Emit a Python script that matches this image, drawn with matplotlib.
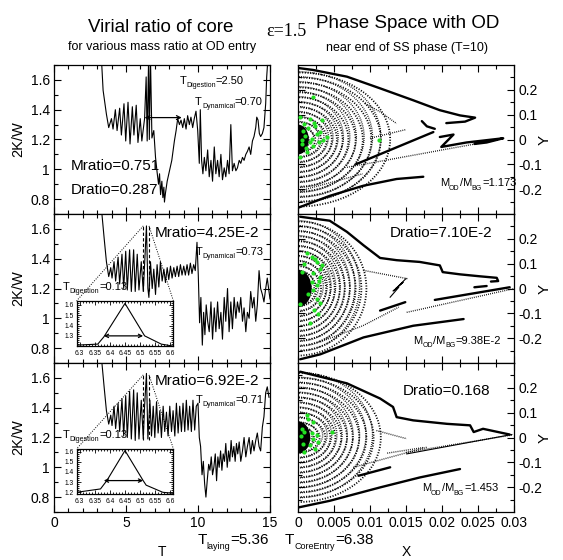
import matplotlib
matplotlib.use('Agg')
import matplotlib.pyplot as plt
from matplotlib import font_manager
from matplotlib.patches import Arc, Ellipse
from matplotlib.ticker import MultipleLocator, FixedLocator, FuncFormatter
from matplotlib.transforms import IdentityTransform

names = {f.name for f in font_manager.fontManager.ttflist}
SANS = 'Liberation Sans Narrow' if 'Liberation Sans Narrow' in names else 'Liberation Sans'
SERIF = 'Liberation Serif'
plt.rcParams['font.family'] = [SANS, 'DejaVu Sans']

# ---------------- data: virial ratio curves (T, 2K/W) ----------------
P1 = [(3.29,1.75),(3.41,1.53),(3.64,1.37),(3.80,1.28),(3.99,1.34),(4.10,1.27),(4.26,1.40),(4.38,1.26),(4.56,1.41),(4.68,1.23),(4.86,1.44),(4.98,1.19),(5.14,1.45),(5.28,1.17),(5.44,1.42),(5.55,1.23),(5.71,1.43),(5.83,1.18),(5.99,1.34),(6.10,1.19),(6.29,1.34),(6.40,1.62),(6.47,1.19),(6.57,1.75),(6.62,1.20),(6.70,1.75),(6.80,1.21),(6.93,1.26),(7.05,1.08),(7.16,0.98),(7.26,0.90),(7.33,0.97),(7.40,0.83),(7.49,0.92),(7.56,0.81),(7.63,0.88),(7.67,0.78),(7.74,0.84),(7.86,0.92),(8.02,0.99),(8.18,1.06),(8.36,1.19),(8.48,1.26),(8.59,1.34),(8.71,1.30),(8.82,1.33),(8.94,1.28),(9.05,1.34),(9.17,1.27),(9.28,1.36),(9.40,1.30),(9.51,1.35),(9.63,1.28),(9.74,1.34),(9.86,1.39),(9.98,1.26),(10.09,1.04),(10.16,1.40),(10.25,1.06),(10.34,0.97),(10.44,1.08),(10.55,0.99),(10.67,1.13),(10.78,0.95),(10.90,1.06),(11.01,0.92),(11.13,1.15),(11.24,0.97),(11.36,1.06),(11.47,0.95),(11.59,1.10),(11.70,0.93),(11.82,1.01),(11.93,0.95),(12.05,1.06),(12.16,0.97),(12.28,1.30),(12.39,0.99),(12.51,1.04),(12.63,0.99),(12.74,1.01),(12.86,1.06),(12.97,1.04),(13.09,1.08),(13.20,1.06),(13.32,1.10),(13.43,1.12),(13.55,1.15),(13.66,1.10),(13.78,1.19),(13.89,1.22),(14.01,1.28),(14.08,1.35),(14.17,1.33),(14.26,1.24),(14.35,1.22),(14.47,1.24),(14.58,1.28),(14.70,1.44),(14.77,1.62),(14.86,1.75)]
P2 = [(3.29,1.74),(3.48,1.54),(3.64,1.38),(3.80,1.28),(3.94,1.34),(4.03,1.27),(4.17,1.38),(4.28,1.25),(4.45,1.41),(4.56,1.23),(4.72,1.43),(4.84,1.20),(4.98,1.45),(5.09,1.19),(5.25,1.46),(5.37,1.18),(5.53,1.46),(5.64,1.18),(5.78,1.43),(5.90,1.19),(6.06,1.38),(6.20,1.18),(6.29,1.36),(6.42,1.62),(6.52,1.20),(6.59,1.14),(6.70,1.38),(6.82,1.20),(6.93,1.33),(7.05,1.16),(7.16,1.36),(7.28,1.21),(7.39,1.38),(7.51,1.25),(7.63,1.33),(7.74,1.24),(7.86,1.34),(7.97,1.26),(8.09,1.35),(8.20,1.27),(8.32,1.34),(8.43,1.28),(8.55,1.35),(8.66,1.28),(8.78,1.36),(8.89,1.29),(9.01,1.35),(9.12,1.29),(9.24,1.36),(9.35,1.29),(9.47,1.37),(9.58,1.30),(9.70,1.36),(9.81,1.32),(9.93,1.51),(10.02,1.29),(10.11,0.97),(10.20,1.14),(10.30,0.82),(10.39,1.04),(10.48,0.89),(10.57,1.09),(10.67,0.98),(10.78,0.91),(10.90,1.11),(11.01,0.86),(11.13,1.07),(11.24,0.91),(11.36,1.11),(11.47,0.93),(11.59,1.04),(11.70,0.86),(11.82,1.14),(11.93,0.98),(12.05,1.20),(12.16,0.91),(12.28,1.11),(12.39,0.93),(12.51,1.14),(12.63,1.00),(12.74,1.11),(12.86,1.04),(12.97,1.14),(13.09,0.98),(13.20,1.07),(13.32,0.91),(13.43,1.04),(13.55,1.00),(13.66,1.18),(13.78,1.07),(13.89,1.14),(14.01,0.98),(14.12,1.09),(14.24,1.32),(14.35,1.20),(14.47,1.16),(14.58,1.11),(14.70,1.20),(14.81,1.27),(14.93,1.18),(15.0,1.13)]
P3 = [(3.29,1.74),(3.48,1.54),(3.64,1.38),(3.80,1.29),(3.94,1.35),(4.03,1.28),(4.17,1.41),(4.28,1.26),(4.45,1.43),(4.56,1.24),(4.72,1.46),(4.84,1.21),(4.98,1.48),(5.09,1.20),(5.25,1.51),(5.37,1.19),(5.53,1.52),(5.64,1.18),(5.78,1.50),(5.90,1.19),(6.06,1.45),(6.20,1.19),(6.29,1.41),(6.42,1.63),(6.52,1.19),(6.66,1.45),(6.77,1.21),(6.89,1.41),(7.00,1.20),(7.12,1.44),(7.23,1.23),(7.35,1.38),(7.46,1.20),(7.58,1.41),(7.69,1.24),(7.81,1.37),(7.92,1.21),(8.04,1.41),(8.16,1.24),(8.27,1.38),(8.39,1.21),(8.50,1.43),(8.62,1.23),(8.73,1.41),(8.85,1.24),(8.96,1.43),(9.08,1.24),(9.19,1.45),(9.31,1.25),(9.42,1.41),(9.54,1.24),(9.65,1.45),(9.77,1.25),(9.88,1.41),(10.00,1.43),(10.09,1.20),(10.18,1.14),(10.28,0.95),(10.37,1.04),(10.46,0.89),(10.55,0.80),(10.64,0.91),(10.74,1.02),(10.83,0.98),(10.92,1.07),(11.01,0.95),(11.10,1.00),(11.20,1.09),(11.29,0.91),(11.38,1.07),(11.47,1.00),(11.57,1.11),(11.66,0.98),(11.75,1.09),(11.84,1.04),(11.93,1.16),(12.03,1.00),(12.12,1.11),(12.21,1.04),(12.30,1.18),(12.39,1.07),(12.49,1.14),(12.58,1.04),(12.67,1.16),(12.76,1.09),(12.86,1.17),(12.97,1.04),(13.09,1.11),(13.20,1.20),(13.32,1.07),(13.43,1.14),(13.55,1.20),(13.66,1.09),(13.78,1.18),(13.89,1.11),(14.01,1.18),(14.12,1.23),(14.24,1.14),(14.35,1.11),(14.47,1.27),(14.58,1.34),(14.70,1.50),(14.81,1.54),(14.93,1.47)]

# insets (zoom of the peak near OD core entry)
I2 = [(6.29,1.21),(6.36,1.22),(6.38,1.29),(6.45,1.615),(6.515,1.30),(6.57,1.22),(6.61,1.20)]
I3 = [(6.29,1.20),(6.369,1.233),(6.39,1.315),(6.45,1.61),(6.51,1.315),(6.52,1.27),(6.575,1.20),(6.61,1.19)]
I2_arrow = (6.38, 6.51, 1.30)
I3_arrow = (6.38, 6.51, 1.315)
P1_arrow = (6.29, 8.87, 1.347)

mratio_labels = ['Mratio=0.751', 'Mratio=4.25E-2', 'Mratio=6.92E-2']
dratio_labels = ['Dratio=0.287', 'Dratio=7.10E-2', 'Dratio=0.168']
tdyn_labels = ['0.70', '0.73', '0.71']
tdig_labels = ['2.50', '0.13', '0.13']
mod_labels = ['1.173', '9.38E-2', '1.453']
t_laying = '5.36'
t_core_entry = '6.38'

# ---------------- data: phase space (X, Y) ----------------
R1_thick = [
    [(0.0000,0.288),(0.0021,0.280),(0.0068,0.253),(0.0114,0.206),(0.0160,0.158),(0.0197,0.118),(0.0225,0.097),(0.0246,0.088),(0.0232,0.072),(0.0206,0.066)],
    [(0.0172,0.074),(0.0179,0.053),(0.0190,0.043)],
    [(0.0197,0.010),(0.0216,0.020),(0.0199,-0.030),(0.0234,-0.012),(0.0285,0.005),(0.0262,-0.012),(0.0245,-0.018)],
    [(0.0081,-0.099),(0.0188,0.030)],
    [(0.0000,-0.275),(0.0044,-0.227),(0.0091,-0.186),(0.0137,-0.159),(0.0174,-0.150)],
]
R1_dotted = [
    [(0.0068,-0.112),(0.0278,-0.001)],
    [(0.0093,0.145),(0.0115,0.110),(0.0137,0.064)],
    [(0.0003,-0.207),(0.0090,-0.138)],
    [(0.0100,0.005),(0.0150,0.040)],
]
R1_arc_a = [0.27,0.25,0.23,0.21,0.19,0.17,0.15,0.13,0.11,0.09,0.07,0.05,0.03]
R1_arc_b = [0.0128,0.0115,0.0102,0.0090,0.0080,0.0070,0.0062,0.0054,0.0047,0.0040,0.0032,0.0024,0.0015]
R1_core = (0.0015, 0.06)
R1_green = [(0.0021,0.171),(0.0003,0.090),(0.0017,0.084),(0.0033,0.080),(0.0024,0.053),(0.0007,0.036),(0.0010,0.016),(0.0026,0.023),(0.0035,-0.004),(0.0005,-0.020),(0.0021,-0.028),(0.0012,-0.051),(0.0003,-0.072),(0.0112,-0.001),(0.0014,0.045),(0.0019,0.003),(0.0029,-0.012),(0.0008,0.062),(0.0030,0.030),(0.0016,-0.010),(0.0006,0.000),(0.0022,0.068),(0.0040,0.010),(0.0011,-0.035)]

R2_thick = [
    [(0.0003,0.289),(0.0044,0.273),(0.0068,0.228),(0.0091,0.174),(0.0114,0.123),(0.0137,0.114),(0.0169,0.107),(0.0197,0.093),(0.0201,0.066),(0.0225,0.057),(0.0253,0.049),(0.0276,0.043),(0.0278,0.030),(0.0268,0.028)],
    [(0.0245,0.005),(0.0262,0.010)],
    [(0.0190,-0.046),(0.0294,0.005)],
    [(0.0114,-0.089),(0.0149,-0.055)],
    [(0.0003,-0.285),(0.0031,-0.265),(0.0091,-0.197),(0.0160,-0.150),(0.0230,-0.123)],
]
R2_thin = [(0.0128,-0.035),(0.0140,0.005),(0.0132,-0.010),(0.0146,0.025),(0.0136,0.000),(0.0150,0.040)]
R2_dotted = [
    [(0.0151,-0.096),(0.0299,-0.001)],
    [(0.0091,0.073),(0.0153,0.039)],
    [(0.0031,-0.215),(0.0090,-0.150),(0.0140,-0.075)],
]
R2_arc_a = [0.27,0.25,0.23,0.21,0.19,0.17,0.15,0.13,0.11,0.09,0.07,0.05,0.03]
R2_arc_b = [0.0095,0.0088,0.0080,0.0072,0.0065,0.0058,0.0051,0.0045,0.0039,0.0032,0.0025,0.0018,0.0011]
R2_core = (0.0019, 0.075)
R2_green = [(0.0012,0.141),(0.0019,0.127),(0.0026,0.107),(0.0031,0.080),(0.0005,0.065),(0.0021,0.061),(0.0031,0.046),(0.0019,0.025),(0.0026,0.014),(0.0021,-0.008),(0.0014,-0.022),(0.0026,-0.042),(0.0003,-0.062),(0.0028,-0.103),(0.0017,-0.137),(0.0033,0.095),(0.0029,0.030),(0.0024,0.120),(0.0008,0.100),(0.0030,-0.060),(0.0022,-0.085)]

R3_thick = [
    [(0.0003,0.265),(0.0068,0.218),(0.0114,0.157),(0.0132,0.123),(0.0137,0.082),(0.0160,0.069),(0.0207,0.055),(0.0239,0.049),(0.0244,0.022),(0.0257,0.035),(0.0294,0.012)],
    [(0.0000,-0.282),(0.0044,-0.255),(0.0114,-0.201),(0.0169,-0.161),(0.0225,-0.127)],
    [(0.0084,-0.154),(0.0128,-0.120)],
]
R3_thin = [(0.0297,0.012),(0.0151,-0.066)]
R3_dotted = [
    [(0.0077,-0.120),(0.0179,-0.039)],
    [(0.0109,0.028),(0.0151,-0.005)],
    [(0.0124,-0.063),(0.0175,-0.040)],
    [(0.0150,-0.060),(0.0297,0.010)],
]
R3_arc_a = [0.26,0.24,0.22,0.20,0.18,0.16,0.14,0.12,0.10,0.08,0.06,0.045,0.03]
R3_arc_b = [0.0115,0.0105,0.0095,0.0085,0.0076,0.0068,0.0060,0.0052,0.0045,0.0038,0.0030,0.0022,0.0014]
R3_core = (0.0017, 0.065)
R3_green = [(0.0012,0.089),(0.0021,0.062),(0.0005,0.035),(0.0008,0.022),(0.0019,0.018),(0.0047,0.022),(0.0021,-0.005),(0.0007,-0.026),(0.0016,-0.030),(0.0023,-0.046),(0.0009,-0.059),(0.0026,0.010),(0.0014,0.075),(0.0028,-0.020),(0.0004,0.005)]

# ---------------- figure ----------------
W, H = 563, 560
DPI = 100
fig = plt.figure(figsize=(W/DPI, H/DPI), dpi=DPI)
renderer = fig.canvas.get_renderer()

def fx(px): return px / W
def fy(py): return 1 - py / H

def sub_label(trans, x, y, pieces, size, subsize, ha='left', drop=0.30):
    """pieces: list of (string, is_subscript); (x, y) is the vertical middle of the main text."""
    X0, Y0 = trans.transform((x, y))
    made = []
    for s, is_sub in pieces:
        fs = subsize if is_sub else size
        t = fig.text(0, 0, s, fontsize=fs, transform=IdentityTransform(), ha='left', va='baseline')
        w = t.get_window_extent(renderer).width
        made.append((t, w, is_sub))
    total = sum(w for _, w, _ in made)
    cur = X0 - total if ha == 'right' else X0
    base = Y0 - 0.36 * size * DPI / 72
    for t, w, is_sub in made:
        dy = -drop * size * DPI / 72 if is_sub else 0
        t.set_position((cur, base + dy))
        cur += w

fmt = FuncFormatter(lambda v, p: f'{round(v, 6) + 0.0:g}')

left_x0, left_w = fx(54), (270-54)/W
right_x0, right_w = fx(298), (514-298)/W
tops = [65, 214, 363]
ph = 149

axL, axR = [], []
for i, t in enumerate(tops):
    b = fy(t + ph)
    axL.append(fig.add_axes([left_x0, b, left_w, ph/H]))
    axR.append(fig.add_axes([right_x0, b, right_w, ph/H]))

def style(ax, lw=0.9):
    for s in ax.spines.values():
        s.set_linewidth(lw)
    ax.tick_params(which='both', direction='in', top=True, right=True, left=True, bottom=True, width=0.8)
    ax.tick_params(which='major', length=5, labelsize=10, pad=3)
    ax.tick_params(which='minor', length=3)
    ax.xaxis.set_major_formatter(fmt)
    ax.yaxis.set_major_formatter(fmt)

curves = [P1, P2, P3]
for i, ax in enumerate(axL):
    T, V = zip(*curves[i])
    ax.plot(T, V, color='black', lw=0.8)
    ax.set_xlim(0, 15)
    ax.set_ylim(0.7, 1.7)
    ax.xaxis.set_major_locator(MultipleLocator(5))
    ax.xaxis.set_minor_locator(MultipleLocator(1))
    ax.yaxis.set_major_locator(MultipleLocator(0.2))
    ax.yaxis.set_minor_locator(MultipleLocator(0.1))
    style(ax)
    if i < 2:
        ax.tick_params(labelbottom=False)
    fig.text(fx(18), fy(tops[i] + ph/2), '2K/W', rotation=90, ha='center', va='center', fontsize=10.5)

# panel 1 annotations
ax = axL[0]
ax.annotate('', xy=(P1_arrow[1], P1_arrow[2]), xytext=(P1_arrow[0], P1_arrow[2]),
            arrowprops=dict(arrowstyle='<->', lw=0.9, color='black', shrinkA=0, shrinkB=0, mutation_scale=7))
sub_label(ax.transData, 8.7, 1.60, [('T', False), ('Digestion', True), ('=' + tdig_labels[0], False)], 8, 5)
sub_label(ax.transData, 14.5, 1.46, [('T', False), ('Dynamical', True), ('=' + tdyn_labels[0], False)], 8, 5, ha='right')
ax.text(1.15, 1.02, mratio_labels[0], fontsize=11, va='center')
ax.text(1.15, 0.86, dratio_labels[0], fontsize=11, va='center')

insets = [None, I2, I3]
inset_arrows = [None, I2_arrow, I3_arrow]
inset_ylims = [None, (1.203, 1.64), (1.185, 1.627)]
mr_y = [None, 1.574, 1.578]
td_y = [None, 1.455, 1.461]
dig_y = [None, 1.215, 1.222]
for i in (1, 2):
    ax = axL[i]
    ax.text(14.25, mr_y[i], mratio_labels[i], fontsize=11, ha='right', va='center')
    sub_label(ax.transData, 14.55, td_y[i], [('T', False), ('Dynamical', True), ('=' + tdyn_labels[i], False)], 8, 5, ha='right')
    sub_label(ax.transData, 0.62, dig_y[i], [('T', False), ('Digestion', True), ('=' + tdig_labels[i], False)], 8, 5, drop=0.25)
    ax.plot([6.2, 6.2], [1.18, 1.62], ls=(0, (3, 2)), color='black', lw=0.8)
    ax.plot([6.6, 6.6], [1.18, 1.62], ls=(0, (3, 2)), color='black', lw=0.8)
    ins_top = 1.117 if i == 1 else 1.124
    ax.plot([6.2, 1.57], [1.62, ins_top], ls=(0, (1, 1.5)), color='black', lw=0.7)
    ax.plot([6.6, 8.29], [1.62, ins_top], ls=(0, (1, 1.5)), color='black', lw=0.7)
    axi = ax.inset_axes([1.57, ins_top - 0.302, 6.72, 0.302], transform=ax.transData)
    X, Y = zip(*insets[i])
    axi.plot(X, Y, color='black', lw=0.8)
    a0, a1, ay = inset_arrows[i]
    axi.annotate('', xy=(a1, ay), xytext=(a0, ay),
                 arrowprops=dict(arrowstyle='<->', lw=0.9, color='black', shrinkA=0, shrinkB=0, mutation_scale=6))
    axi.set_xlim(6.29, 6.61)
    axi.set_ylim(*inset_ylims[i])
    axi.xaxis.set_major_locator(MultipleLocator(0.05))
    axi.xaxis.set_minor_locator(MultipleLocator(0.01))
    axi.yaxis.set_major_locator(MultipleLocator(0.1))
    axi.yaxis.set_minor_locator(MultipleLocator(0.02))
    for s in axi.spines.values():
        s.set_linewidth(0.9)
    axi.tick_params(which='both', direction='in', top=True, right=True, width=0.6)
    axi.tick_params(which='major', length=3, labelsize=4.8)
    axi.tick_params(axis='x', which='major', pad=3)
    axi.tick_params(axis='y', which='major', pad=2)
    axi.tick_params(which='minor', length=1.5)
    axi.xaxis.set_major_formatter(fmt)
    axi.yaxis.set_major_formatter(fmt)
    axi.patch.set_facecolor('white')

# ---------------- right panels ----------------
thick_sets = [R1_thick, R2_thick, R3_thick]
thin_sets = [None, R2_thin, R3_thin]
dotted_sets = [R1_dotted, R2_dotted, R3_dotted]
arc_as = [R1_arc_a, R2_arc_a, R3_arc_a]
arc_bs = [R1_arc_b, R2_arc_b, R3_arc_b]
cores = [R1_core, R2_core, R3_core]
greens = [R1_green, R2_green, R3_green]
dot_ls = (0, (0.6, 0.9))
for i, ax in enumerate(axR):
    ax.set_xlim(0, 0.03)
    ax.set_ylim(-0.3, 0.3)
    for a, b in zip(arc_as[i], arc_bs[i]):
        ax.add_patch(Arc((0, 0), 2*b, 2*a, theta1=-90, theta2=90, ls=dot_ls, lw=1.3, color='black'))
        ax.add_patch(Arc((0, 0.01), 1.8*b, 2*a - 0.015, theta1=-90, theta2=90, ls=dot_ls, lw=1.0, color='black'))
    cb, ca = cores[i]
    ax.add_patch(Ellipse((0, 0), 2*cb, 2*ca, color='black', lw=0))
    for seg in thick_sets[i]:
        X, Y = zip(*seg)
        ax.plot(X, Y, color='black', lw=1.7, solid_capstyle='round')
    if thin_sets[i] is not None:
        X, Y = zip(*thin_sets[i])
        ax.plot(X, Y, color='black', lw=0.8)
    for seg in dotted_sets[i]:
        X, Y = zip(*seg)
        ax.plot(X, Y, color='black', lw=1.0, ls=dot_ls)
    X, Y = zip(*greens[i])
    ax.scatter(X, Y, s=9, color='#22e022', zorder=5, lw=0)
    ax.xaxis.set_major_locator(MultipleLocator(0.005))
    ax.xaxis.set_minor_locator(MultipleLocator(0.0025))
    ax.yaxis.set_major_locator(FixedLocator([-0.2, -0.1, 0.0, 0.1, 0.2]))
    ax.yaxis.set_minor_locator(FixedLocator([-0.25, -0.15, -0.05, 0.05, 0.15, 0.25]))
    style(ax)
    ax.tick_params(labelleft=False, labelright=True)
    if i < 2:
        ax.tick_params(labelbottom=False)
    fig.text(fx(545), fy(tops[i] + ph/2), 'Y', rotation=90, ha='center', va='center', fontsize=11)

mod_pieces = lambda v: [('M', False), ('OD', True), ('/M', False), ('BG', True), ('=' + v, False)]
sub_label(axR[0].transData, 0.0197, -0.173, mod_pieces(mod_labels[0]), 8, 5)
axR[1].text(0.0199, 0.222, dratio_labels[1], fontsize=11, va='center', ha='center')
sub_label(axR[1].transData, 0.0160, -0.208, mod_pieces(mod_labels[1]), 8, 5)
axR[2].text(0.0206, 0.188, dratio_labels[2], fontsize=11, va='center', ha='center')
sub_label(axR[2].transData, 0.0172, -0.201, mod_pieces(mod_labels[2]), 8, 5)

# ---------------- titles and outer labels ----------------
fig.text(fx(161), fy(32), 'Virial ratio of core', fontsize=13.5, ha='center', va='baseline')
fig.text(fx(162), fy(50), 'for various mass ratio at OD entry', fontsize=9, ha='center', va='baseline')
fig.text(fx(286), fy(36), 'ε=1.5', fontsize=13, ha='center', va='baseline', family=SERIF)
fig.text(fx(408), fy(28), 'Phase Space with OD', fontsize=13.5, ha='center', va='baseline')
fig.text(fx(407), fy(51), 'near end of SS phase (T=10)', fontsize=9, ha='center', va='baseline')
fig.text(fx(162), fy(552), 'T', fontsize=10, ha='center', va='center')
fig.text(fx(406), fy(552), 'X', fontsize=10, ha='center', va='center')
sub_label(fig.transFigure, fx(269), fy(538), [('T', False), ('laying', True), ('=' + t_laying, False)], 11, 6.5, ha='right', drop=0.35)
sub_label(fig.transFigure, fx(285), fy(538), [('T', False), ('CoreEntry', True), ('=' + t_core_entry, False)], 11, 6.5, drop=0.35)

fig.savefig('out.png', dpi=DPI)
